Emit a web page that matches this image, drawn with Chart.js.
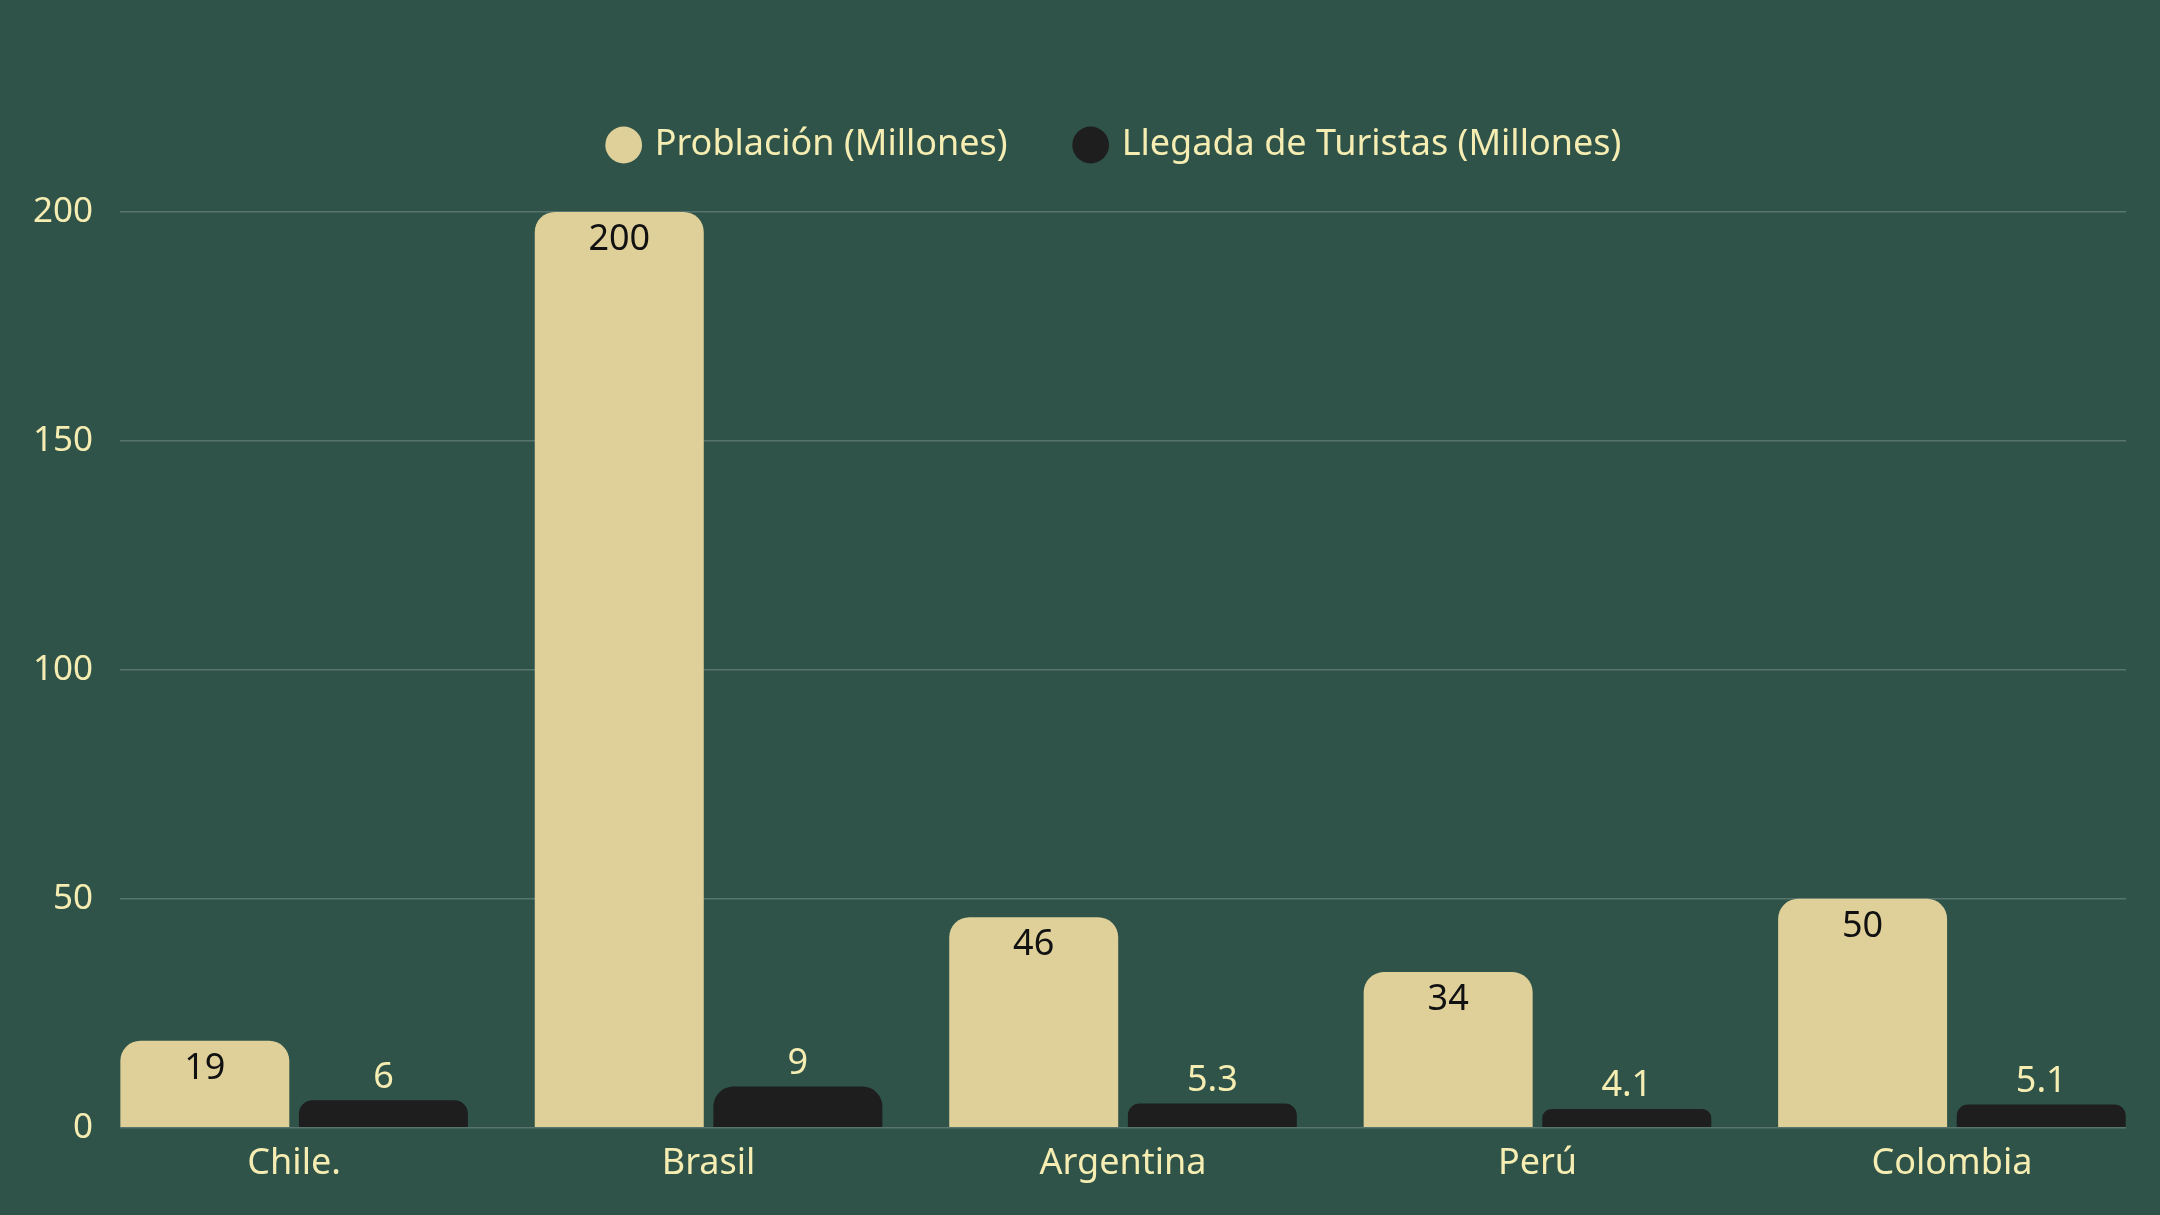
<!DOCTYPE html>
<html>
<head>
<meta charset="utf-8">
<script src="https://cdn.jsdelivr.net/npm/chart.js@4.4.1/dist/chart.umd.min.js"></script>
<style>
html,body{margin:0;padding:0;background:#2f5349;}
#wrap{width:2160px;height:1215px;position:relative;}
</style>
</head>
<body>
<div id="wrap"><canvas id="c" width="2160" height="1215"></canvas></div>
<script>
const categories = ["Chile.", "Brasil", "Argentina", "Perú", "Colombia"];
const poblacion = [19, 200, 46, 34, 50];
const turistas = [6, 9, 5.3, 4.1, 5.1];
const seriesNames = ["Problación (Millones)", "Llegada de Turistas (Millones)"];
const yTicks = [0, 50, 100, 150, 200];

const CREAM = "#dfd09a";
const DARK = "#1e1e1e";
const TEXT = "#f6edb2";
const FONT = "'Noto Sans', 'Open Sans', sans-serif";

const valueLabels = {
  id: "valueLabels",
  afterDatasetsDraw(chart) {
    const ctx = chart.ctx;
    ctx.save();
    ctx.font = "36px " + FONT;
    ctx.textAlign = "center";
    ctx.textBaseline = "middle";
    chart.data.datasets.forEach((ds, di) => {
      const meta = chart.getDatasetMeta(di);
      meta.data.forEach((bar, i) => {
        const v = ds.data[i].y;
        if (di === 0) {
          ctx.fillStyle = "#111111";
          ctx.fillText(String(v), bar.x, bar.y + 28);
        } else {
          ctx.fillStyle = TEXT;
          ctx.fillText(String(v), bar.x, bar.y - 23);
        }
      });
    });
    ctx.restore();
  }
};

const legendSpace = {
  id: "legendSpace",
  beforeInit(chart) {
    const lg = chart.legend;
    const origFit = lg.fit;
    lg.fit = function () {
      origFit.call(this);
      this.height = this.height + 39;
    };
  },
  afterLayout(chart) {
    const lg = chart.legend;
    lg.left += 50;
    lg.right += 50;
  }
};

const xMin = -0.42, xMax = categories.length - 1 + 0.42;

new Chart(document.getElementById("c"), {
  type: "bar",
  data: {
    datasets: [
      {
        label: seriesNames[0],
        data: poblacion.map((v, i) => ({ x: i, y: v })),
        backgroundColor: CREAM,
        borderRadius: 20,
        borderSkipped: "bottom",
        categoryPercentage: 0.862,
        barPercentage: 0.946
      },
      {
        label: seriesNames[1],
        data: turistas.map((v, i) => ({ x: i, y: v })),
        backgroundColor: DARK,
        borderRadius: 20,
        borderSkipped: "bottom",
        categoryPercentage: 0.862,
        barPercentage: 0.946
      }
    ]
  },
  options: {
    responsive: false,
    animation: false,
    devicePixelRatio: 1,
    layout: { padding: { top: 57, left: 6, right: 34, bottom: 24 } },
    plugins: {
      tooltip: { enabled: false },
      legend: {
        display: true,
        position: "top",
        labels: {
          usePointStyle: true,
          pointStyle: "circle",
          boxWidth: 26,
          boxHeight: 26,
          padding: 70,
          color: TEXT,
          font: { family: FONT, size: 36 }
        }
      }
    },
    scales: {
      x: {
        type: "linear",
        min: xMin,
        max: xMax,
        offset: false,
        grid: { display: false },
        border: { display: false },
        afterBuildTicks(scale) {
          scale.ticks = categories.map((c, i) => ({ value: i }));
        },
        ticks: {
          color: TEXT,
          padding: 6,
          font: { family: FONT, size: 36 },
          callback: (v) => categories[v]
        }
      },
      y: {
        min: 0,
        max: 200,
        afterBuildTicks(scale) {
          scale.ticks = yTicks.map(v => ({ value: v }));
        },
        grid: { color: "rgba(255,255,255,0.2)", lineWidth: 1.5, drawTicks: false },
        border: { display: false },
        ticks: {
          color: TEXT,
          padding: 27,
          font: { family: FONT, size: 35 }
        }
      }
    }
  },
  plugins: [legendSpace, valueLabels]
});
</script>
</body>
</html>
